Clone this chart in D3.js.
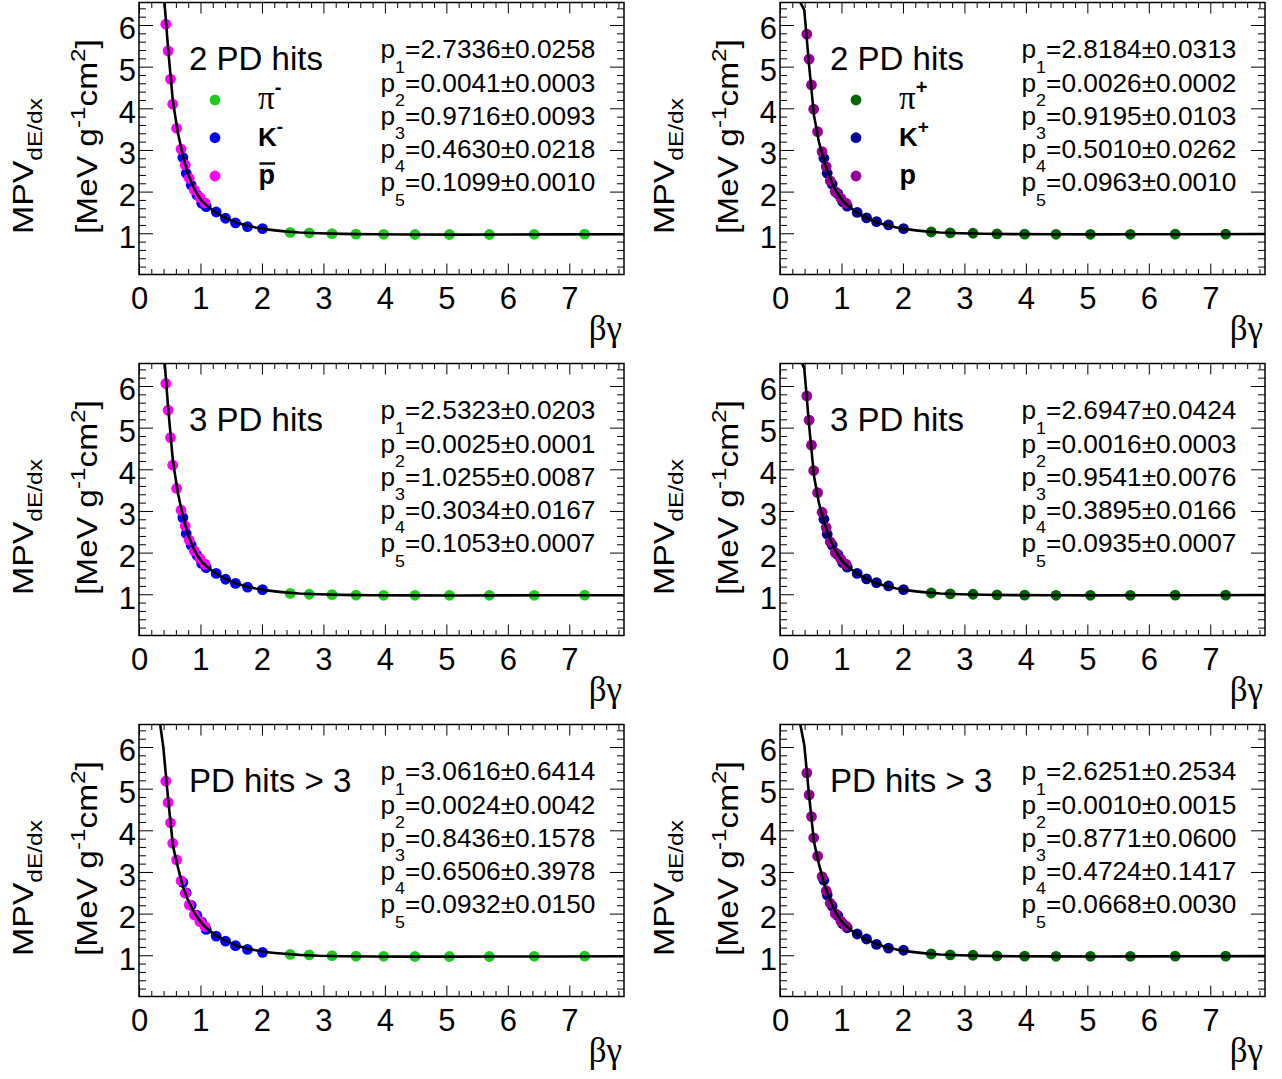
<!DOCTYPE html>
<html><head><meta charset="utf-8">
<script src="https://cdn.jsdelivr.net/npm/d3@7"></script>
<style>
body{margin:0;background:#fff}
svg text{font-family:"Liberation Sans",Arial,sans-serif;fill:#000}
</style>
</head><body>
<svg id="chart" width="1282" height="1079"></svg>
<script>
// ---------------- data ----------------
const xTickLabels = ["0","1","2","3","4","5","6","7"];
const yTickLabels = ["1","2","3","4","5","6"];
const panelTitles = ["2 PD hits","2 PD hits","3 PD hits","3 PD hits","PD hits > 3","PD hits > 3"];

const pionBetaGamma   = [2.46, 2.77, 3.14, 3.53, 3.98, 4.49, 5.05, 5.70, 6.43, 7.25];
const kaonBetaGamma   = [0.714, 0.768, 0.849, 0.942, 1.02, 1.093, 1.256, 1.408, 1.57, 1.765, 2.01];
const protonBetaGamma = [0.436, 0.474, 0.512, 0.548, 0.612, 0.684, 0.752, 0.817, 0.90, 0.99, 1.075];
const fitBetaGamma    = [0.316, 0.395, 0.474, 0.553, 0.632, 0.711, 0.79, 0.869, 0.948, 1.027, 1.106, 1.185, 1.264, 1.343, 1.422, 1.501, 1.58, 1.738, 1.896, 2.054, 2.212, 2.37, 2.607, 2.923, 3.318, 3.792, 4.424, 5.135, 5.925, 6.715, 7.9];

// 2 PD hits, negative
const pion2Neg   = [1.02, 1.01, 0.99, 0.98, 0.975, 0.97, 0.97, 0.97, 0.975, 0.98];
const kaon2Neg   = [2.82, 2.44, 2.16, 1.92, 1.72, 1.64, 1.51, 1.36, 1.25, 1.16, 1.11];
const proton2Neg = [6.02, 5.38, 4.70, 4.10, 3.52, 3.02, 2.64, 2.32, 2.04, 1.86, 1.73];
const fit2Neg    = [9.0, 6.9, 5.42, 4.15, 3.42, 2.88, 2.46, 2.16, 1.93, 1.77, 1.66, 1.57, 1.49, 1.42, 1.36, 1.31, 1.26, 1.19, 1.14, 1.10, 1.07, 1.045, 1.02, 1.0, 0.985, 0.975, 0.97, 0.968, 0.97, 0.974, 0.978];
const params2Neg = ["2.7336±0.0258","0.0041±0.0003","0.9716±0.0093","0.4630±0.0218","0.1099±0.0010"];

// 2 PD hits, positive
const pion2Pos   = [1.03, 1.01, 1.0, 0.985, 0.98, 0.975, 0.975, 0.975, 0.978, 0.98];
const kaon2Pos   = [2.80, 2.44, 2.18, 1.95, 1.76, 1.65, 1.50, 1.37, 1.28, 1.20, 1.11];
const proton2Pos = [5.78, 5.18, 4.56, 3.98, 3.44, 2.96, 2.60, 2.26, 2.00, 1.84, 1.72];
const fit2Pos    = [6.58, 6.36, 5.02, 3.83, 3.20, 2.76, 2.42, 2.14, 1.93, 1.77, 1.66, 1.57, 1.49, 1.42, 1.36, 1.31, 1.26, 1.19, 1.14, 1.10, 1.07, 1.045, 1.02, 1.0, 0.987, 0.979, 0.975, 0.974, 0.975, 0.978, 0.982];
const params2Pos = ["2.8184±0.0313","0.0026±0.0002","0.9195±0.0103","0.5010±0.0262","0.0963±0.0010"];

// 3 PD hits, negative
const pion3Neg   = [1.02, 1.0, 0.99, 0.98, 0.975, 0.975, 0.975, 0.975, 0.975, 0.98];
const kaon3Neg   = [2.84, 2.46, 2.18, 1.94, 1.74, 1.64, 1.50, 1.36, 1.26, 1.17, 1.11];
const proton3Neg = [6.06, 5.42, 4.76, 4.10, 3.54, 3.02, 2.64, 2.30, 2.04, 1.86, 1.72];
const fit3Neg    = [9.2, 7.0, 5.48, 4.18, 3.44, 2.90, 2.47, 2.16, 1.93, 1.77, 1.66, 1.57, 1.49, 1.42, 1.36, 1.31, 1.26, 1.19, 1.14, 1.10, 1.07, 1.045, 1.02, 1.0, 0.985, 0.977, 0.973, 0.972, 0.973, 0.975, 0.978];
const params3Neg = ["2.5323±0.0203","0.0025±0.0001","1.0255±0.0087","0.3034±0.0167","0.1053±0.0007"];

// 3 PD hits, positive
const pion3Pos   = [1.03, 1.01, 1.0, 0.985, 0.98, 0.975, 0.975, 0.975, 0.978, 0.98];
const kaon3Pos   = [2.80, 2.44, 2.18, 1.95, 1.76, 1.65, 1.50, 1.37, 1.28, 1.20, 1.11];
const proton3Pos = [5.76, 5.18, 4.58, 3.97, 3.44, 2.97, 2.60, 2.26, 2.00, 1.84, 1.72];
const fit3Pos    = [6.70, 6.42, 5.05, 3.84, 3.20, 2.76, 2.42, 2.14, 1.93, 1.77, 1.66, 1.57, 1.49, 1.42, 1.36, 1.31, 1.26, 1.19, 1.14, 1.10, 1.07, 1.045, 1.02, 1.0, 0.987, 0.979, 0.975, 0.974, 0.975, 0.978, 0.982];
const params3Pos = ["2.6947±0.0424","0.0016±0.0003","0.9541±0.0076","0.3895±0.0166","0.0935±0.0007"];

// >3 PD hits, negative
const pionMNeg   = [1.02, 1.01, 0.99, 0.98, 0.975, 0.97, 0.97, 0.97, 0.975, 0.98];
const kaonMNeg   = [2.75, 2.50, 2.20, 1.96, 1.80, 1.62, 1.46, 1.34, 1.23, 1.14, 1.07];
const protonMNeg = [5.18, 4.67, 4.18, 3.69, 3.29, 2.79, 2.49, 2.21, 1.97, 1.81, 1.69];
const fitMNeg    = [6.85, 6.0, 4.75, 3.62, 3.12, 2.66, 2.35, 2.10, 1.91, 1.76, 1.64, 1.55, 1.47, 1.40, 1.34, 1.29, 1.24, 1.17, 1.12, 1.08, 1.055, 1.035, 1.01, 0.99, 0.978, 0.97, 0.967, 0.967, 0.969, 0.972, 0.976];
const paramsMNeg = ["3.0616±0.6414","0.0024±0.0042","0.8436±0.1578","0.6506±0.3978","0.0932±0.0150"];

// >3 PD hits, positive
const pionMPos   = [1.03, 1.01, 1.0, 0.985, 0.98, 0.975, 0.975, 0.975, 0.978, 0.98];
const kaonMPos   = [2.80, 2.45, 2.18, 1.95, 1.76, 1.66, 1.51, 1.39, 1.26, 1.17, 1.12];
const protonMPos = [5.38, 4.85, 4.33, 3.82, 3.38, 2.89, 2.55, 2.25, 2.00, 1.82, 1.70];
const fitMPos    = [6.65, 6.05, 4.82, 3.72, 3.20, 2.75, 2.42, 2.14, 1.93, 1.77, 1.66, 1.57, 1.49, 1.42, 1.36, 1.31, 1.26, 1.19, 1.14, 1.10, 1.07, 1.045, 1.02, 1.0, 0.985, 0.977, 0.973, 0.972, 0.973, 0.976, 0.98];
const paramsMPos = ["2.6251±0.2534","0.0010±0.0015","0.8771±0.0600","0.4724±0.1417","0.0668±0.0030"];

const negColors = {pion:"#1ccc1c", kaon:"#0000ff", proton:"#ff00ff"};
const posColors = {pion:"#006600", kaon:"#000099", proton:"#990099"};

const panels = [
  {title:panelTitles[0], pion:pion2Neg, kaon:kaon2Neg, proton:proton2Neg, fit:fit2Neg, params:params2Neg, charge:"-", legend:true},
  {title:panelTitles[1], pion:pion2Pos, kaon:kaon2Pos, proton:proton2Pos, fit:fit2Pos, params:params2Pos, charge:"+", legend:true},
  {title:panelTitles[2], pion:pion3Neg, kaon:kaon3Neg, proton:proton3Neg, fit:fit3Neg, params:params3Neg, charge:"-", legend:false},
  {title:panelTitles[3], pion:pion3Pos, kaon:kaon3Pos, proton:proton3Pos, fit:fit3Pos, params:params3Pos, charge:"+", legend:false},
  {title:panelTitles[4], pion:pionMNeg, kaon:kaonMNeg, proton:protonMNeg, fit:fitMNeg, params:paramsMNeg, charge:"-", legend:false},
  {title:panelTitles[5], pion:pionMPos, kaon:kaonMPos, proton:protonMPos, fit:fitMPos, params:paramsMPos, charge:"+", legend:false}
];

// ---------------- layout ----------------
const svg = d3.select("#chart");
const colStep = 641, rowStep = 361;
const frame = {l:139, r:624, t:2.5, b:274.5};
const xDomain = [0, 7.89], yDomain = [0.01, 6.54];
const R = 5.4;

function fitLength(sel, target){
  const len = sel.node().getComputedTextLength();
  const base = sel.attr("transform") || "";
  sel.attr("transform", base + ` scale(${target/len},1)`);
}

panels.forEach((p, i) => {
  const col = i % 2, row = Math.floor(i / 2);
  const g = svg.append("g").attr("transform", `translate(${col*colStep},${row*rowStep})`);
  const x = d3.scaleLinear().domain(xDomain).range([frame.l, frame.r]);
  const y = d3.scaleLinear().domain(yDomain).range([frame.b, frame.t]);
  const colors = p.charge === "-" ? negColors : posColors;

  const clipId = "clip" + i;
  g.append("clipPath").attr("id", clipId).append("rect")
    .attr("x", frame.l).attr("y", frame.t).attr("width", frame.r - frame.l).attr("height", frame.b - frame.t);

  // axes
  const majorX = d3.range(0, 8, 1);
  const minorX = d3.range(0, 7.9, 0.2).filter(v => Math.abs(v - Math.round(v)) > 1e-6);
  const majorY = d3.range(1, 7, 1);
  const minorY = d3.range(0.2, 6.55, 0.2).filter(v => Math.abs(v - Math.round(v)) > 1e-6);

  function styleAxis(a){ a.select(".domain").remove(); a.selectAll("line").attr("stroke","#000").attr("stroke-width",1); }

  const ax = g.append("g").attr("transform", `translate(0,${frame.b})`)
    .call(d3.axisBottom(x).tickValues(majorX).tickSize(-11).tickPadding(12).tickFormat((d,k)=>xTickLabels[k]));
  styleAxis(ax);
  ax.selectAll("text").attr("font-size", 31).attr("font-family", "Liberation Sans, Arial, sans-serif");
  g.append("g").attr("transform", `translate(0,${frame.b})`)
    .call(d3.axisBottom(x).tickValues(minorX).tickSize(-5.5).tickFormat("")).call(styleAxis);
  g.append("g").attr("transform", `translate(0,${frame.t})`)
    .call(d3.axisTop(x).tickValues(majorX).tickSize(-11).tickFormat("")).call(styleAxis);
  g.append("g").attr("transform", `translate(0,${frame.t})`)
    .call(d3.axisTop(x).tickValues(minorX).tickSize(-5.5).tickFormat("")).call(styleAxis);

  const ay = g.append("g").attr("transform", `translate(${frame.l},0)`)
    .call(d3.axisLeft(y).tickValues(majorY).tickSize(-14).tickPadding(3).tickFormat((d,k)=>yTickLabels[k]));
  styleAxis(ay);
  ay.selectAll("text").attr("font-size", 31).attr("dy", "0.45em").attr("font-family", "Liberation Sans, Arial, sans-serif");
  g.append("g").attr("transform", `translate(${frame.l},0)`)
    .call(d3.axisLeft(y).tickValues(minorY).tickSize(-7).tickFormat("")).call(styleAxis);
  g.append("g").attr("transform", `translate(${frame.r},0)`)
    .call(d3.axisRight(y).tickValues(majorY).tickSize(-14).tickFormat("")).call(styleAxis);
  g.append("g").attr("transform", `translate(${frame.r},0)`)
    .call(d3.axisRight(y).tickValues(minorY).tickSize(-7).tickFormat("")).call(styleAxis);

  g.append("rect").attr("x", frame.l).attr("y", frame.t)
    .attr("width", frame.r - frame.l).attr("height", frame.b - frame.t)
    .attr("fill", "none").attr("stroke", "#000").attr("stroke-width", 1.5);

  // data points
  const series = [
    {bg: pionBetaGamma, v: p.pion, c: colors.pion},
    {bg: kaonBetaGamma, v: p.kaon, c: colors.kaon},
    {bg: protonBetaGamma, v: p.proton, c: colors.proton}
  ];
  const pts = g.append("g").attr("clip-path", `url(#${clipId})`);
  series.forEach(s => {
    pts.selectAll(null).data(s.v).enter().append("circle")
      .attr("cx", (d,k) => x(s.bg[k])).attr("cy", d => y(d)).attr("r", R).attr("fill", s.c);
  });

  // fit curve
  const line = d3.line().x((d,k) => x(fitBetaGamma[k])).y(d => y(d));
  g.append("path").attr("clip-path", `url(#${clipId})`).attr("d", line(p.fit))
    .attr("fill", "none").attr("stroke", "#000").attr("stroke-width", 2.6).attr("stroke-linejoin","round");

  // y title
  const t1 = g.append("text").attr("transform", "translate(33,234) rotate(-90)").attr("font-size", 29);
  t1.append("tspan").text("MPV");
  t1.append("tspan").attr("dy", 9).attr("font-size", 21).text("dE/dx");
  fitLength(t1, 136);
  const t2 = g.append("text").attr("transform", "translate(97,234) rotate(-90)").attr("font-size", 29);
  t2.append("tspan").text("[MeV g");
  t2.append("tspan").attr("dy", -12).attr("font-size", 21).text("-1");
  t2.append("tspan").attr("dy", 12).text("cm");
  t2.append("tspan").attr("dy", -12).attr("font-size", 21).text("2");
  t2.append("tspan").attr("dy", 12).text("]");
  fitLength(t2, 195);

  // x title
  g.append("text").attr("x", 622).attr("y", 340).attr("text-anchor", "end")
    .attr("font-size", 35).style("font-family", "'Liberation Serif','Times New Roman',serif").text("βγ");

  // panel title
  g.append("text").attr("x", 189).attr("y", 69.5).attr("font-size", 33).text(p.title);

  // parameters
  p.params.forEach((s, k) => {
    const by = 58.3 + k * 33.2;
    const t = g.append("text").attr("transform", `translate(380.5,${by})`).attr("font-size", 25);
    t.append("tspan").text("p");
    t.append("tspan").attr("dy", 14.5).attr("font-size", 17).text(String(k + 1));
    t.append("tspan").attr("dy", -14.5).text("=" + s);
    fitLength(t, 215);
  });

  // legend
  if (p.legend) {
    const ly = [100, 137.7, 176];
    [colors.pion, colors.kaon, colors.proton].forEach((c, k) => {
      g.append("circle").attr("cx", 215).attr("cy", ly[k]).attr("r", R).attr("fill", c);
    });
    const tp = g.append("text").attr("x", 258).attr("y", 109.3).attr("font-size", 33)
      .style("font-family", "'Liberation Serif','Times New Roman',serif");
    tp.append("tspan").text("π");
    tp.append("tspan").attr("dy", -15).attr("font-size", 20).attr("font-weight", "bold")
      .style("font-family", "'Liberation Sans',Arial,sans-serif").text(p.charge);
    const tk = g.append("text").attr("x", 258).attr("y", 145.7).attr("font-size", 26).attr("font-weight", "bold");
    tk.append("tspan").text("K");
    tk.append("tspan").attr("dy", -13).attr("font-size", 19).text(p.charge);
    g.append("text").attr("x", 258.5).attr("y", 184).attr("font-size", 27).attr("font-weight", "bold").text("p");
    if (p.charge === "-") {
      g.append("line").attr("x1", 259.5).attr("x2", 275).attr("y1", 163.5).attr("y2", 163.5)
        .attr("stroke", "#000").attr("stroke-width", 2.4);
    }
  }
});
</script>
</body></html>
